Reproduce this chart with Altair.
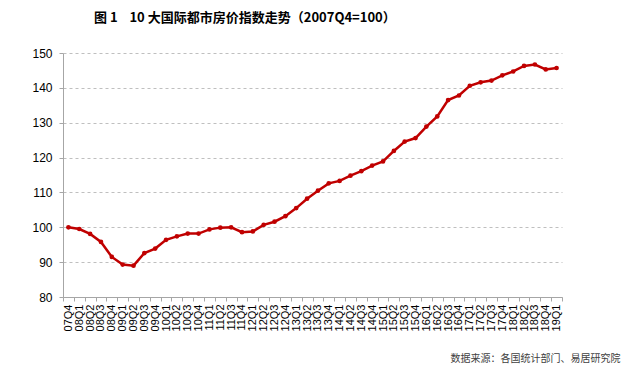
import altair as alt
import pandas as pd

quarters = ["07Q4",
            "08Q1", "08Q2", "08Q3", "08Q4",
            "09Q1", "09Q2", "09Q3", "09Q4",
            "10Q1", "10Q2", "10Q3", "10Q4",
            "11Q1", "11Q2", "11Q3", "11Q4",
            "12Q1", "12Q2", "12Q3", "12Q4",
            "13Q1", "13Q2", "13Q3", "13Q4",
            "14Q1", "14Q2", "14Q3", "14Q4",
            "15Q1", "15Q2", "15Q3", "15Q4",
            "16Q1", "16Q2", "16Q3", "16Q4",
            "17Q1", "17Q2", "17Q3", "17Q4",
            "18Q1", "18Q2", "18Q3", "18Q4",
            "19Q1"]
index_values = [100.0,
                99.5, 98.1, 95.8, 91.5,
                89.3, 89.0, 92.6, 93.9,
                96.4, 97.4, 98.2, 98.2,
                99.4, 99.9, 100.0, 98.6,
                98.8, 100.7, 101.6, 103.2,
                105.5, 108.2, 110.5, 112.6,
                113.3, 114.8, 116.1, 117.7,
                118.9, 121.9, 124.6, 125.6,
                128.9, 131.8, 136.5, 137.8,
                140.6, 141.6, 142.1, 143.6,
                144.7, 146.3, 146.7, 145.3,
                145.7]
y_ticks = [80, 90, 100, 110, 120, 130, 140, 150]

title_text = "图\u00a01\u00a0\u00a0\u00a0\u00a010\u00a0大国际都市房价指数走势（2007Q4=100）"
source_text = "数据来源：各国统计部门、易居研究院"

df = pd.DataFrame({"q": quarters, "v": index_values})

RED = "#C00000"

x_enc = alt.X(
    "q:O", sort=None,
    scale=alt.Scale(type="band", paddingInner=0, paddingOuter=0),
    axis=alt.Axis(
        title=source_text, titleFont="Noto Sans CJK SC", titleFontSize=10,
        titleFontWeight="normal", titleColor="#404040",
        titleAnchor="end", titleAlign="right", titleX=557, titleY=61,
        titleBaseline="middle",
        labelAngle=-90, labelFont="Liberation Sans", labelFontSize=11,
        labelColor="#000000", labelPadding=3, labelOverlap=False,
        tickBand="extent", tickSize=4, tickColor="#A6A6A6",
        domainColor="#A6A6A6", grid=False,
    ),
)
y_enc = alt.Y(
    "v:Q",
    scale=alt.Scale(domain=[80, 150], nice=False, zero=False),
    axis=alt.Axis(
        title=None, values=y_ticks, labelFont="Liberation Sans",
        labelFontSize=12, labelColor="#000000", labelPadding=7,
        tickSize=4, tickColor="#A6A6A6", domainColor="#A6A6A6",
        grid=True, gridColor="#BFBFBF", gridDash=[3, 3], gridWidth=1,
    ),
)

line = alt.Chart(df).mark_line(color=RED, strokeWidth=2.5).encode(x=x_enc, y=y_enc)
pts = alt.Chart(df).mark_point(color=RED, filled=True, size=22, opacity=1).encode(x=x_enc, y=y_enc)

chart = (
    alt.layer(line, pts)
    .properties(
        width=499, height=244,
        title=alt.TitleParams(
            title_text, font="Noto Sans CJK SC", fontSize=13, fontWeight="bold",
            color="#000000", anchor="start", frame="group", dx=31, offset=22,
        ),
        autosize=alt.AutoSizeParams(type="none"),
        padding={"left": 55, "top": 45, "right": 70, "bottom": 70},
    )
    .configure_view(stroke=None)
    .configure_axisX(domainWidth=1)
)

chart.save("out.html", embed_options={"renderer": "svg", "actions": False})
